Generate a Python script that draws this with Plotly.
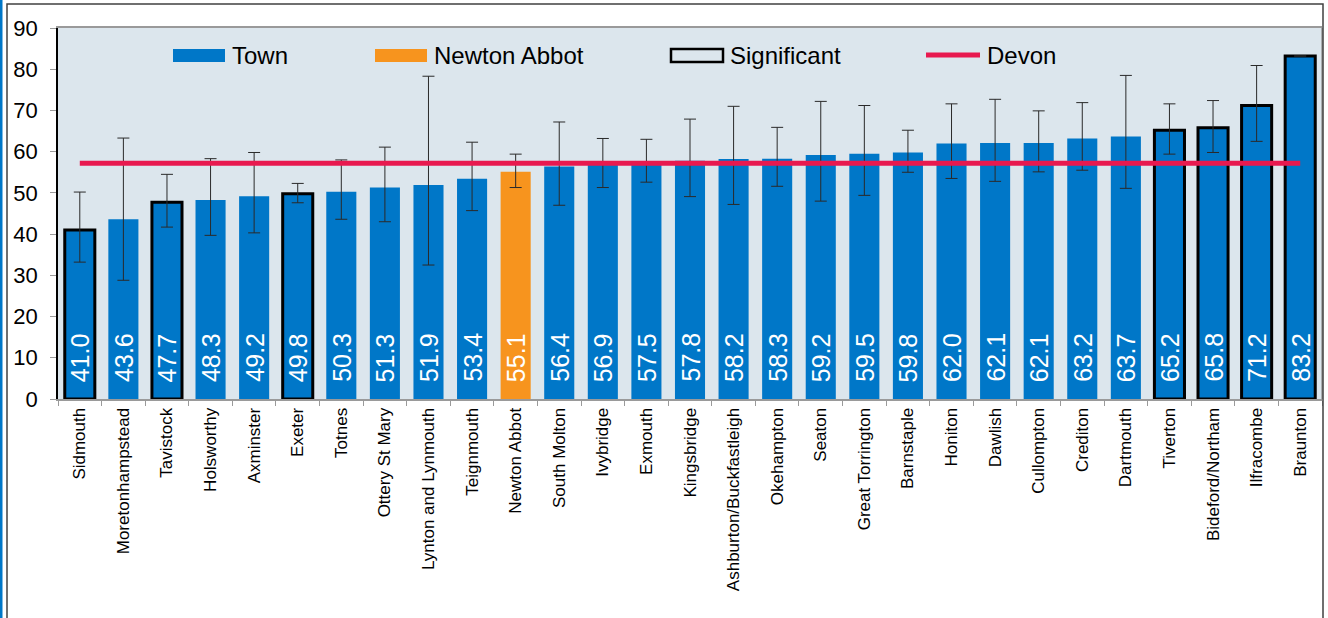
import plotly.graph_objects as go

towns = ["Sidmouth", "Moretonhampstead", "Tavistock", "Holsworthy", "Axminster", "Exeter",
         "Totnes", "Ottery St Mary", "Lynton and Lynmouth", "Teignmouth", "Newton Abbot",
         "South Molton", "Ivybridge", "Exmouth", "Kingsbridge", "Ashburton/Buckfastleigh",
         "Okehampton", "Seaton", "Great Torrington", "Barnstaple", "Honiton", "Dawlish",
         "Cullompton", "Crediton", "Dartmouth", "Tiverton", "Bideford/Northam", "Ilfracombe",
         "Braunton"]
values = [41.0, 43.6, 47.7, 48.3, 49.2, 49.8, 50.3, 51.3, 51.9, 53.4, 55.1, 56.4, 56.9, 57.5,
          57.8, 58.2, 58.3, 59.2, 59.5, 59.8, 62.0, 62.1, 62.1, 63.2, 63.7, 65.2, 65.8, 71.2, 83.2]
ci_lower = [33.2, 28.8, 41.7, 39.7, 40.3, 47.6, 43.6, 43.0, 32.5, 45.7, 51.3, 47.0, 51.3, 52.6,
            49.1, 47.2, 51.6, 48.0, 49.4, 55.0, 53.5, 52.8, 55.1, 55.5, 51.1, 59.4, 59.8, 62.5, 83.2]
ci_upper = [50.2, 63.3, 54.5, 58.3, 59.8, 52.3, 58.0, 61.1, 78.3, 62.3, 59.4, 67.2, 63.2, 63.0,
            67.9, 71.0, 65.9, 72.2, 71.2, 65.2, 71.6, 72.7, 69.9, 71.9, 78.5, 71.6, 72.4, 80.9, 83.2]
significant = ["Sidmouth", "Tavistock", "Exeter", "Tiverton", "Bideford/Northam", "Ilfracombe",
               "Braunton"]
highlight = "Newton Abbot"
devon_rate = 57.2
y_ticks = [0, 10, 20, 30, 40, 50, 60, 70, 80, 90]

BLUE = "#0077C8"
ORANGE = "#F7941E"
RED = "#E8194F"
BG = "#DCE6ED"
FONT = "Liberation Sans, Arial, sans-serif"

W, H = 1328, 618
L, R, T, B = 58, 6, 28, 219
PW, PH = W - L - R, H - T - B


def px(x):
    return (x - L) / PW


def py(y):
    return (H - B - y) / PH


colors = [ORANGE if t == highlight else BLUE for t in towns]
line_w = [3 if t in significant else 0 for t in towns]
err_plus = [u - v for u, v in zip(ci_upper, values)]
err_minus = [v - lo for v, lo in zip(values, ci_lower)]

fig = go.Figure()
fig.add_trace(go.Bar(
    x=towns, y=values,
    marker=dict(color=colors, line=dict(color="black", width=line_w)),
    error_y=dict(type="data", symmetric=False, array=err_plus, arrayminus=err_minus,
                 color="#2a2a2a", thickness=1, width=6),
    showlegend=False,
))
fig.add_trace(go.Scatter(
    x=towns, y=[devon_rate] * len(towns), mode="lines",
    line=dict(color=RED, width=5), showlegend=False,
))

annotations = []
for t, v in zip(towns, values):
    annotations.append(dict(
        x=t, y=0, xref="x", yref="y", text=f"{v:.1f}", showarrow=False,
        textangle=-90, xanchor="center", yanchor="bottom", yshift=15,
        font=dict(family=FONT, size=25, color="white"),
    ))

shapes = []
# custom legend
legend_items = [
    ("Town", "bar", BLUE, 173, 225),
    ("Newton Abbot", "bar", ORANGE, 375, 427),
    ("Significant", "outline", None, 671, 723),
    ("Devon", "line", RED, 926, 980),
]
for label, kind, col, x0, x1 in legend_items:
    if kind == "bar":
        shapes.append(dict(type="rect", xref="paper", yref="paper",
                           x0=px(x0), x1=px(x1), y0=py(62), y1=py(49),
                           fillcolor=col, line=dict(width=0)))
    elif kind == "outline":
        shapes.append(dict(type="rect", xref="paper", yref="paper",
                           x0=px(x0), x1=px(x1), y0=py(62), y1=py(49),
                           fillcolor="rgba(0,0,0,0)", line=dict(color="black", width=2.5)))
    else:
        shapes.append(dict(type="line", xref="paper", yref="paper",
                           x0=px(x0), x1=px(x1), y0=py(55), y1=py(55),
                           line=dict(color=col, width=5)))
    annotations.append(dict(
        x=px(x1 + 5), y=py(55), xref="paper", yref="paper", text=label,
        showarrow=False, xanchor="left", yanchor="middle",
        font=dict(family=FONT, size=24, color="black"),
    ))

# plot-area right border
shapes.append(dict(type="line", xref="paper", yref="paper", x0=1, x1=1, y0=0, y1=1,
                   line=dict(color="#9a9a9a", width=1.5)))
# outer frame
shapes.append(dict(type="rect", xref="paper", yref="paper",
                   x0=px(7), x1=px(1323), y0=py(640), y1=py(4),
                   line=dict(color="#404040", width=1.5), fillcolor="rgba(0,0,0,0)",
                   layer="above"))
shapes.append(dict(type="line", xref="paper", yref="paper",
                   x0=px(1), x1=px(1), y0=py(640), y1=py(-5),
                   line=dict(color=BLUE, width=3)))

fig.update_layout(
    width=W, height=H,
    margin=dict(l=L, r=R, t=T, b=B),
    paper_bgcolor="white",
    plot_bgcolor=BG,
    bargap=0.31,
    font=dict(family=FONT, color="black"),
    annotations=annotations,
    shapes=shapes,
    showlegend=False,
)
fig.update_xaxes(
    type="category", tickangle=-90, tickfont=dict(size=17, family=FONT, color="black"),
    showline=True, linecolor="#9a9a9a", linewidth=2, mirror=True,
    ticks="outside", tickson="boundaries", ticklen=5, tickcolor="#9a9a9a",
    showgrid=False, range=[-0.5, len(towns) - 0.5], automargin=False,
)
fig.update_yaxes(
    range=[0, 90], tickvals=y_ticks, tickfont=dict(size=22, family=FONT, color="black"),
    showline=True, linecolor="black", linewidth=1.5,
    ticks="outside", ticklen=6, tickcolor="#9a9a9a", ticklabelstandoff=8,
    showgrid=False, zeroline=False, automargin=False,
)

fig.write_html(
    "out.html",
    config={"displayModeBar": False},
    post_script="document.body.style.margin='0';document.body.style.overflow='hidden';",
)
